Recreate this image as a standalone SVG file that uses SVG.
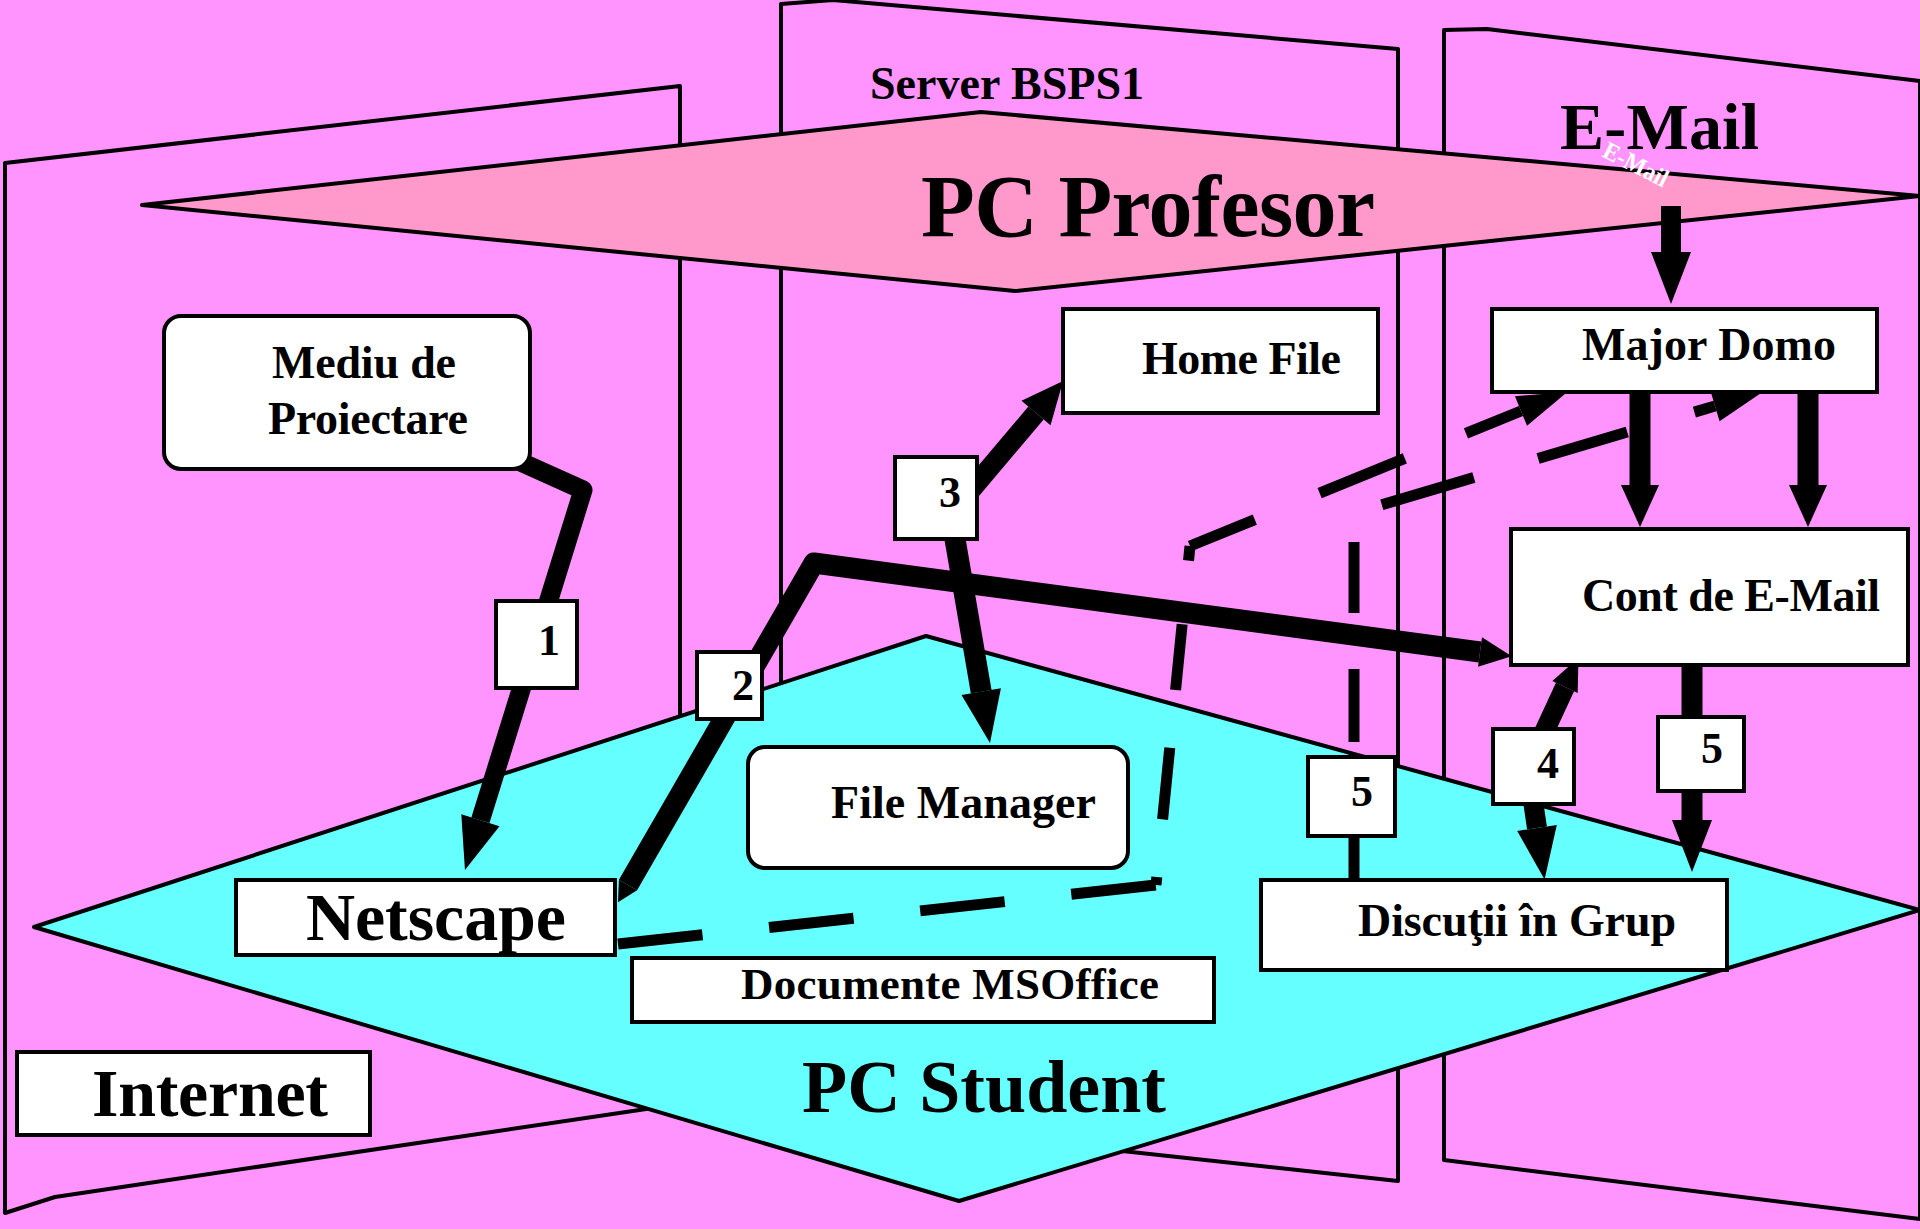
<svg xmlns="http://www.w3.org/2000/svg" width="1920" height="1229" viewBox="0 0 1920 1229">
<defs>
<style>
.panel{fill:#FF94FF;stroke:#000;stroke-width:4;stroke-linejoin:round}
.box{fill:#fff;stroke:#000;stroke-width:4}
.t{font-family:"Liberation Serif","Times New Roman",serif;font-weight:bold;fill:#000}
.num{font-family:"Liberation Serif","Times New Roman",serif;font-weight:bold;font-size:44px;text-anchor:middle;fill:#000}
.thick{fill:none;stroke:#000;stroke-linejoin:round}
.dash{fill:none;stroke:#000;stroke-width:11}
</style>
<marker id="ah52" markerUnits="userSpaceOnUse" orient="auto" refX="0" refY="0" markerWidth="60" markerHeight="50" viewBox="0 -25 60 50" overflow="visible"><path d="M0,-20 L52,0 L0,20 Z"/></marker>
<marker id="ah42" markerUnits="userSpaceOnUse" orient="auto" refX="0" refY="0" markerWidth="50" markerHeight="50" viewBox="0 -25 50 50" overflow="visible"><path d="M0,-19 L42,0 L0,19 Z"/></marker>
<marker id="ahd" markerUnits="userSpaceOnUse" orient="auto" refX="0" refY="0" markerWidth="60" markerHeight="40" viewBox="0 -20 60 40" overflow="visible"><path d="M0,-16 L50,0 L0,16 Z"/></marker>
<marker id="ah2" markerUnits="userSpaceOnUse" orient="auto" refX="0" refY="0" markerWidth="40" markerHeight="40" viewBox="0 -20 40 40" overflow="visible"><path d="M0,-15 L32,0 L0,15 Z"/></marker>
<marker id="ah4s" markerUnits="userSpaceOnUse" orient="auto-start-reverse" refX="0" refY="0" markerWidth="40" markerHeight="40" viewBox="0 -20 40 40" overflow="visible"><path d="M0,-14 L32,0 L0,14 Z"/></marker>
<marker id="tip2" markerUnits="userSpaceOnUse" orient="auto-start-reverse" refX="0" refY="0" markerWidth="30" markerHeight="30" viewBox="0 -15 30 30" overflow="visible"><path d="M0,-10.5 L20,0 L0,10.5 Z"/></marker>
</defs>

<rect x="0" y="0" width="1920" height="1229" fill="#FF94FF"/>

<g id="panel-internet"><polygon class="panel" points="5,163 680,86 680,1104 55,1197 5,1213"/></g>
<g id="panel-server"><polygon class="panel" points="781,4 833,0 1398,49 1398,1181 781,1114"/>
<text class="t" x="870" y="99" font-size="46" textLength="274">Server BSPS1</text></g>
<g id="panel-email"><polygon class="panel" points="1444,30 1487,29 1920,81 1920,1219 1444,1160"/>
<text class="t" x="1560" y="149" font-size="66" textLength="199">E-Mail</text></g>

<g id="pc-profesor"><polygon points="142,205 981,112 1920,196 1015,291" fill="#FF99CC" stroke="#000" stroke-width="4" stroke-linejoin="round"/>
<text class="t" x="921" y="236" font-size="88" textLength="454">PC Profesor</text></g>

<g id="email-icon"><text x="1601" y="156" font-family="Liberation Serif, serif" font-weight="bold" font-size="25" fill="#fff" textLength="70" lengthAdjust="spacingAndGlyphs" transform="rotate(27 1601 156)">E-Mail</text></g>

<g id="pc-student"><polygon points="34,927 926,636 1920,910 959,1201" fill="#66FFFF" stroke="#000" stroke-width="4" stroke-linejoin="round"/>
<text class="t" x="802" y="1112" font-size="74" textLength="364">PC Student</text></g>

<g id="connectors">
<path class="thick" stroke-width="19" d="M505,455 L583,490 L480.4,820.3" marker-end="url(#ah52)"/>
<path class="thick" stroke-width="21" d="M628,885 L814,563 L1480,652" marker-start="url(#tip2)" marker-end="url(#ah2)"/>
<path class="thick" stroke-width="20" d="M960,503 L1036,413" marker-end="url(#ah42)"/>
<path class="thick" stroke-width="21" d="M950,510 L981.2,691.7" marker-end="url(#ah52)"/>
<path class="thick" stroke-width="20" d="M1671,206 L1671,252" marker-end="url(#ah52)"/>
<path class="thick" stroke-width="21" d="M1640,390 L1640,485" marker-end="url(#ah42)"/>
<path class="thick" stroke-width="21" d="M1808,390 L1808,485" marker-end="url(#ah42)"/>
<path class="thick" stroke-width="21" d="M1692,663 L1692,820" marker-end="url(#ah52)"/>
<path class="thick" stroke-width="20" d="M1565,687 L1528,767 L1537,828" marker-start="url(#ah4s)" marker-end="url(#ah52)"/>
<g id="dashed-a">
<path class="dash" d="M618,944 L1156,885" stroke-dasharray="85 67"/>
<path class="dash" d="M1156,885 L1190,546" stroke-dasharray="8 58 72 58 66 64 30"/>
<path class="dash" d="M1190,546 L1521,411" stroke-dasharray="70 70 92 66 60" marker-end="url(#ahd)"/>
</g>
<g id="dashed-b">
<path class="dash" d="M1354,513 L1354,879" stroke-dasharray="0 29 71 56 73 12 200"/>
<path class="dash" d="M1354,513 L1715,406" stroke-dasharray="0 29 96 67 93 70 30" marker-end="url(#ahd)"/>
</g>
</g>

<g id="mediu"><rect class="box" x="164" y="316" width="366" height="153" rx="17"/>
<text class="t" x="272" y="378" font-size="46" textLength="184">Mediu de</text>
<text class="t" x="268" y="434" font-size="46" textLength="200">Proiectare</text></g>
<g id="home-file"><rect class="box" x="1063" y="309" width="315" height="104"/>
<text class="t" x="1142" y="374" font-size="46" textLength="199">Home File</text></g>
<g id="major-domo"><rect class="box" x="1492" y="309" width="385" height="83"/>
<text class="t" x="1582" y="360" font-size="46" textLength="254">Major Domo</text></g>
<g id="cont-email"><rect class="box" x="1511" y="529" width="397" height="136"/>
<text class="t" x="1582" y="611" font-size="46" textLength="298">Cont de E-Mail</text></g>
<g id="file-manager"><rect class="box" x="748" y="747" width="380" height="121" rx="17"/>
<text class="t" x="831" y="818" font-size="46" textLength="265">File Manager</text></g>
<g id="netscape"><rect class="box" x="236" y="880" width="379" height="75"/>
<text class="t" x="306" y="940" font-size="68" textLength="260">Netscape</text></g>
<g id="documente"><rect class="box" x="632" y="958" width="582" height="64"/>
<text class="t" x="741" y="999" font-size="45" textLength="418">Documente MSOffice</text></g>
<g id="discutii"><rect class="box" x="1261" y="880" width="466" height="90"/>
<text class="t" x="1358" y="936" font-size="46" textLength="318">Discuţii în Grup</text></g>
<g id="internet"><rect class="box" x="17" y="1052" width="353" height="83"/>
<text class="t" x="92" y="1116" font-size="68" textLength="236">Internet</text></g>
<g id="n1"><rect class="box" x="496" y="601" width="81" height="87"/><text class="num" x="549" y="655">1</text></g>
<g id="n2"><rect class="box" x="697" y="652" width="65" height="67"/><text class="num" x="743" y="700">2</text></g>
<g id="n3"><rect class="box" x="895" y="457" width="82" height="82"/><text class="num" x="950" y="507">3</text></g>
<g id="n4"><rect class="box" x="1493" y="729" width="81" height="75"/><text class="num" x="1548" y="778">4</text></g>
<g id="n5a"><rect class="box" x="1308" y="757" width="87" height="79"/><text class="num" x="1362" y="806">5</text></g>
<g id="n5b"><rect class="box" x="1658" y="717" width="86" height="74"/><text class="num" x="1712" y="763">5</text></g>
</svg>
